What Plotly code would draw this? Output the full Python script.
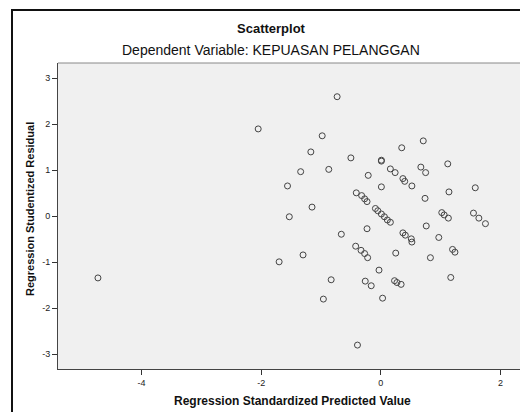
import plotly.graph_objects as go

# Regression Standardized Predicted Value
pred = [-4.73, -2.05, -1.70, -1.56, -1.53, -1.34, -1.30, -1.17, -1.15, -0.98,
        -0.96, -0.87, -0.83, -0.73, -0.66, -0.50, -0.41, -0.32, -0.27, -0.23,
        -0.42, -0.33, -0.27, -0.22, -0.39, -0.26, -0.23, -0.21, -0.16, -0.09,
        -0.05, -0.03, 0.01, 0.01, 0.01, 0.01, 0.03, 0.06, 0.11, 0.16,
        0.16, 0.23, 0.24, 0.25, 0.27, 0.34, 0.35, 0.37, 0.37, 0.40,
        0.41, 0.51, 0.52, 0.52, 0.67, 0.71, 0.74, 0.75, 0.76, 0.83,
        0.97, 1.02, 1.06, 1.13, 1.12, 1.14, 1.17, 1.20, 1.24, 1.55,
        1.58, 1.64, 1.75]
# Regression Studentized Residual
resid = [-1.34, 1.90, -0.99, 0.66, -0.01, 0.97, -0.84, 1.40, 0.20, 1.75,
         -1.80, 1.02, -1.38, 2.60, -0.39, 1.27, 0.51, 0.45, 0.38, 0.32,
         -0.65, -0.74, -0.81, -0.90, -2.80, -1.41, -0.27, 0.89, -1.51, 0.17,
         0.12, -1.17, 0.05, 0.64, 1.22, 1.20, -1.78, -0.01, -0.08, -0.13,
         1.03, -1.40, 0.95, -0.80, -1.44, -1.48, 1.49, 0.82, -0.36, 0.76,
         -0.41, -0.49, -0.56, 0.66, 1.07, 1.64, 0.39, 0.95, -0.21, -0.90,
         -0.46, 0.08, 0.03, -0.04, 1.14, 0.53, -1.33, -0.72, -0.78, 0.07,
         0.62, -0.04, -0.16]

x_ticks = [-4, -2, 0, 2]
x_tick_labels = ["-4", "-2", "0", "2"]
y_ticks = [-3, -2, -1, 0, 1, 2, 3]
y_tick_labels = ["-3", "-2", "-1", "0", "1", "2", "3"]

title_text = "Scatterplot"
subtitle_text = "Dependent Variable: KEPUASAN PELANGGAN"
x_title = "Regression Standardized Predicted Value"
y_title = "Regression Studentized Residual"

W, H = 520, 412
L, R, T, B = 58, 0, 63, 43
pw, ph = W - L - R, H - T - B


def px(x):
    return (x - L) / pw


def py(y):
    return (H - B - y) / ph


fig = go.Figure()
fig.add_trace(go.Scatter(
    x=pred, y=resid, mode="markers",
    marker=dict(symbol="circle-open", size=6, color="#444444",
                line=dict(width=1, color="#444444")),
    hoverinfo="x+y", showlegend=False,
))

font = "Liberation Sans, Arial, sans-serif"

fig.update_layout(
    width=W, height=H,
    margin=dict(l=L, r=R, t=T, b=B, pad=0),
    paper_bgcolor="white",
    plot_bgcolor="#f0f0f0",
    font=dict(family=font, size=9, color="#222222"),
    xaxis=dict(range=[-5.398, 2.328], tickvals=x_ticks, ticktext=x_tick_labels,
               ticks="outside", ticklen=5, tickwidth=1, tickcolor="#333333",
               showgrid=False, zeroline=False, showline=True,
               linecolor="#444444", linewidth=1,
               tickfont=dict(size=9, color="#222222")),
    yaxis=dict(range=[-3.320, 3.333], tickvals=y_ticks, ticktext=y_tick_labels,
               ticks="outside", ticklen=5, tickwidth=1, tickcolor="#333333",
               showgrid=False, zeroline=False, showline=True,
               linecolor="#444444", linewidth=1,
               tickfont=dict(size=9, color="#222222")),
    shapes=[
        # plot top border
        dict(type="line", xref="paper", yref="paper", x0=0, x1=1.05, y0=1, y1=1,
             line=dict(color="#888888", width=1)),
        # outer frame top
        dict(type="line", xref="paper", yref="paper", x0=px(11), x1=1.05,
             y0=py(10), y1=py(10), line=dict(color="#111111", width=2)),
        # outer frame left
        dict(type="line", xref="paper", yref="paper", x0=px(12), x1=px(12),
             y0=py(9), y1=py(420), line=dict(color="#111111", width=2)),
    ],
    annotations=[
        dict(text="<b>" + title_text + "</b>", xref="paper", yref="paper",
             x=px(271), y=py(29), xanchor="center", yanchor="middle",
             showarrow=False, font=dict(size=13, color="#111111", family=font)),
        dict(text=subtitle_text, xref="paper", yref="paper",
             x=px(271), y=py(50), xanchor="center", yanchor="middle",
             showarrow=False, font=dict(size=14, color="#111111", family=font)),
        dict(text="<b>" + x_title + "</b>", xref="paper", yref="paper",
             x=px(292), y=py(401), xanchor="center", yanchor="middle",
             showarrow=False, font=dict(size=12, color="#111111", family=font)),
        dict(text="<b>" + y_title + "</b>", xref="paper", yref="paper",
             x=px(30), y=py(209), xanchor="center", yanchor="middle",
             textangle=-90, showarrow=False,
             font=dict(size=11, color="#111111", family=font)),
    ],
)

fig.write_html(
    "out.html",
    config={"displayModeBar": False},
    post_script=("document.documentElement.style.margin='0';"
                 "document.body.style.margin='0';"
                 "document.body.style.padding='0';"
                 "document.body.style.overflow='hidden';"
                 "document.documentElement.style.overflow='hidden';"),
)
